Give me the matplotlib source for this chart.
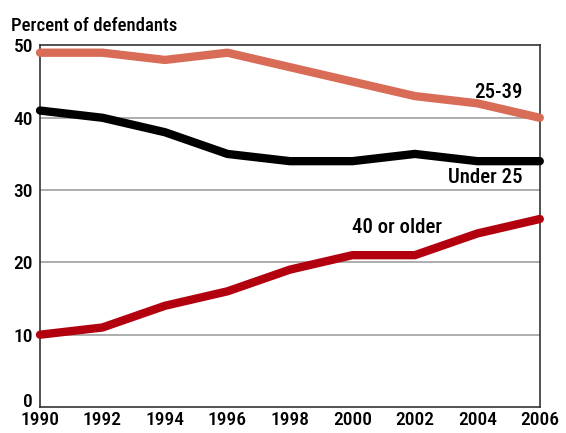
import matplotlib.pyplot as plt
from matplotlib.transforms import ScaledTranslation

years = [1990, 1992, 1994, 1996, 1998, 2000, 2002, 2004, 2006]
age_25_39 = [49, 49, 48, 49, 47, 45, 43, 42, 40]
under_25 = [41, 40, 38, 35, 34, 34, 35, 34, 34]
age_40_up = [10, 11, 14, 16, 19, 21, 21, 24, 26]

plt.rcParams['font.family'] = ['Roboto Condensed', 'Liberation Sans Narrow',
                               'Roboto', 'DejaVu Sans']

fig = plt.figure(figsize=(5.66, 4.33), dpi=100)
ax = fig.add_axes([0.0707, 0.0600, 0.883, 0.835])

for y in [10, 20, 30, 40]:
    ax.axhline(y, color='#a0a0a0', lw=1.2, zorder=1)

ax.plot(years, age_25_39, color='#d96c57', lw=6, solid_capstyle='round',
        solid_joinstyle='round', clip_on=False, zorder=3)
ax.plot(years, under_25, color='black', lw=6, solid_capstyle='round',
        solid_joinstyle='round', clip_on=False, zorder=3)
ax.plot(years, age_40_up, color='#b3000f', lw=6, solid_capstyle='round',
        solid_joinstyle='round', clip_on=False, zorder=3)

ax.set_xlim(1990, 2006)
ax.set_ylim(0, 50)
ax.set_xticks(years)
ax.set_yticks([0, 10, 20, 30, 40, 50])
ax.tick_params(length=0, labelsize=14)
ax.tick_params(axis='x', pad=3)
ax.tick_params(axis='y', pad=5)
for lab in ax.get_xticklabels() + ax.get_yticklabels():
    lab.set_fontweight('medium')
# lift the "0" a little so it clears the year labels
zero = ax.get_yticklabels()[0]
zero.set_transform(zero.get_transform() + ScaledTranslation(0, 5 / 72, fig.dpi_scale_trans))
for s in ax.spines.values():
    s.set_color('#333333')
    s.set_linewidth(1.2)

ax.text(2005.46, 42.7, '25-39', fontsize=15, ha='right', va='baseline', fontweight='medium')
ax.text(2005.46, 31.0, 'Under 25', fontsize=15, ha='right', va='baseline', fontweight='medium')
ax.text(2000.0, 24.0, '40 or older', fontsize=15, ha='left', va='baseline', fontweight='medium')

fig.text(0.020, 0.928, 'Percent of defendants', fontsize=13.5, fontweight='medium',
         ha='left', va='baseline')

fig.savefig('out.png', dpi=100)
